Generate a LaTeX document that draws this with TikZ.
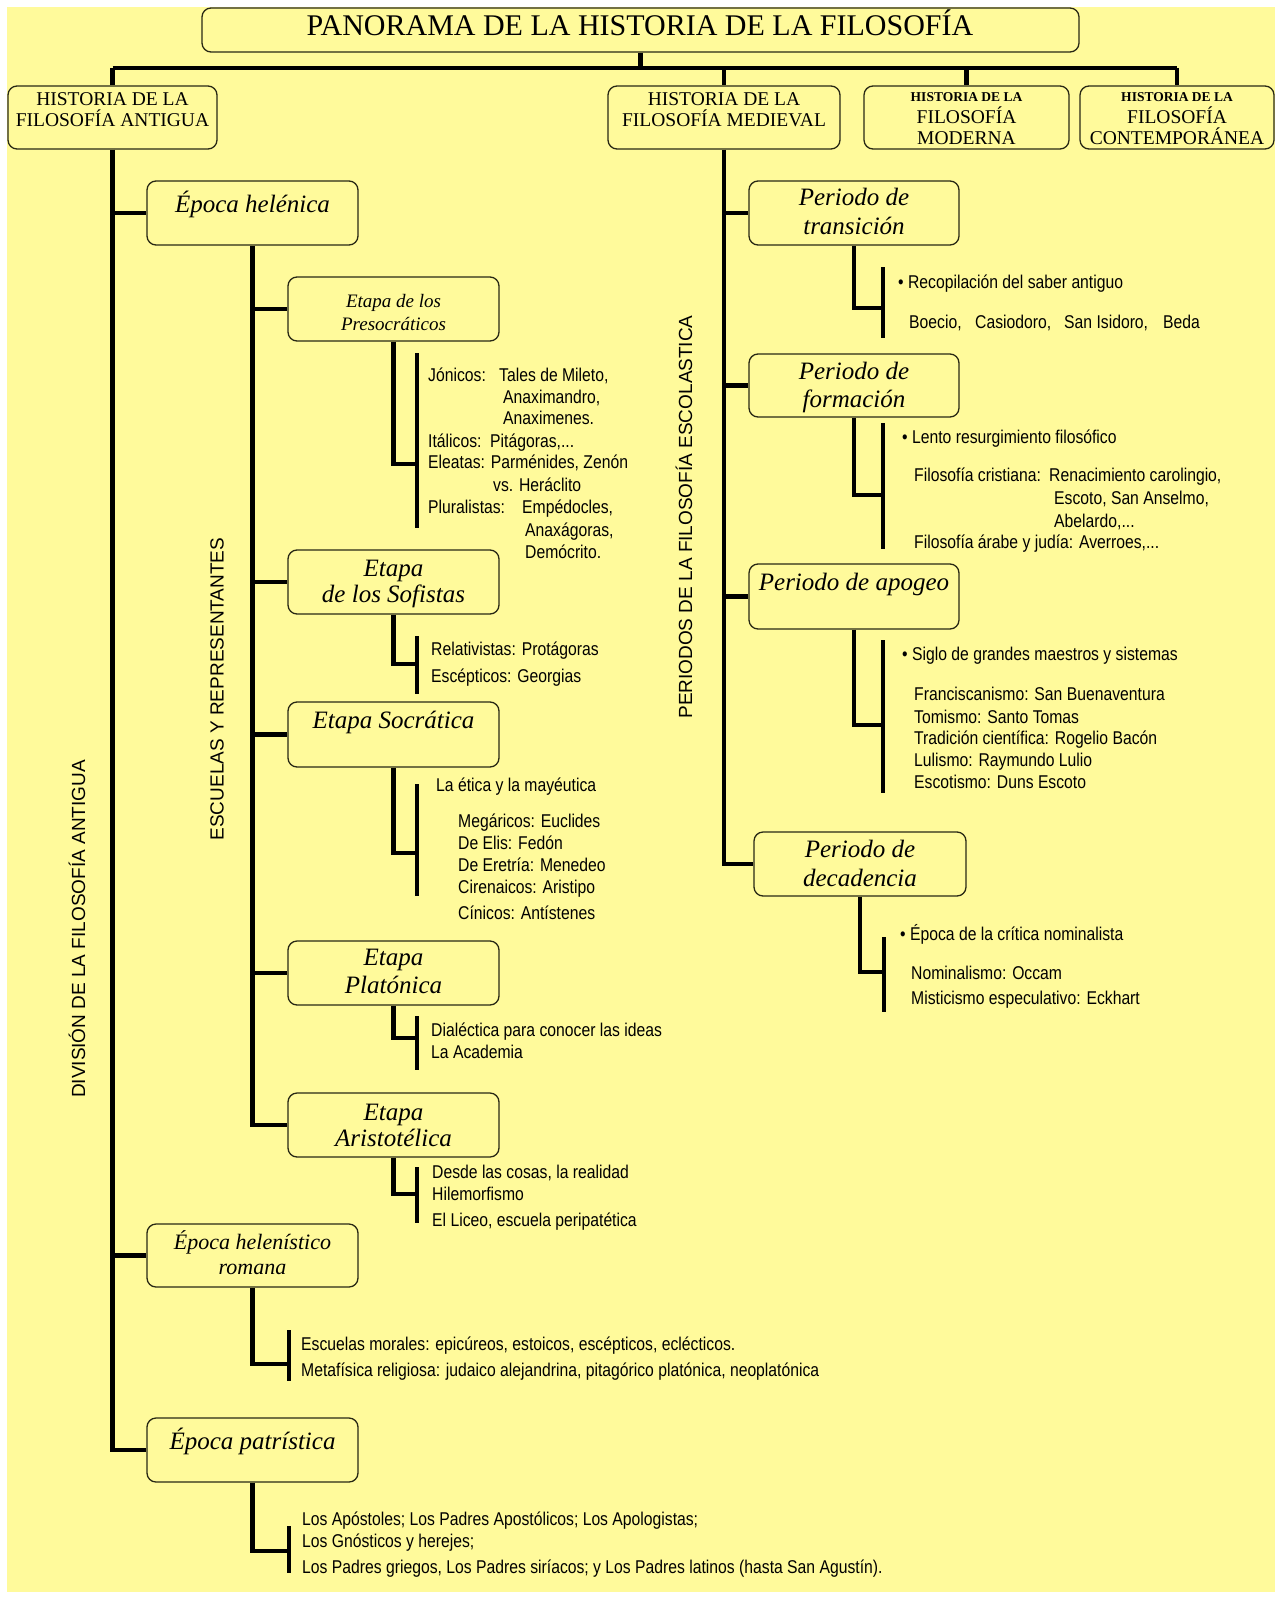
\documentclass[tikz,border=0pt]{standalone}
\usepackage{fontspec}
\setmainfont{Liberation Serif}
\newfontfamily\narrowsans[FakeStretch=0.85]{Liberation Sans}
\newfontfamily\plainsans{Liberation Sans}
\definecolor{bgyellow}{RGB}{255,250,155}
\definecolor{boxline}{RGB}{40,40,20}
\begin{document}
\begin{tikzpicture}[x=1pt,y=-1pt,
  box/.style={draw=boxline, line width=1.3pt, rounded corners=9pt, fill=bgyellow, inner sep=0pt},
  conn/.style={line width=4.5pt, black},
  itl/.style={font=\fontsize{25}{28}\selectfont\itshape, inner sep=0pt, anchor=mid, yshift=-5pt},
  itlsmall/.style={font=\fontsize{19}{22}\selectfont\itshape, inner sep=0pt, anchor=mid, yshift=-4pt},
  itlmid/.style={font=\fontsize{22}{25}\selectfont\itshape, inner sep=0pt, anchor=mid, yshift=-5pt},
  hdr/.style={font=\fontsize{19.5}{21}\selectfont, inner sep=0pt, anchor=mid, yshift=-4.5pt},
  hdrsmall/.style={font=\fontsize{13.5}{15}\selectfont\bfseries, inner sep=0pt, anchor=mid, yshift=-3.5pt},
  ttl/.style={font=\fontsize{30}{32}\selectfont, inner sep=0pt, anchor=mid, yshift=-6pt},
  txt/.style={font=\narrowsans\fontsize{18.5}{22}\selectfont, inner sep=0pt, anchor=mid west, yshift=-4pt},
  vlab/.style={font=\plainsans\fontsize{19}{22}\selectfont, rotate=90, inner sep=0pt, anchor=center}
]
\useasboundingbox (0,0) rectangle (1281,1600);
\fill[bgyellow] (7,7) rectangle (1275,1592);

% ---------- top level ----------
\node[box, minimum width=877pt, minimum height=44pt] (title) at (640.5,30) {};
\node[ttl] (titlet) at (640,27) {PANORAMA DE LA HISTORIA DE LA FILOSOFÍA};

\node[box, minimum width=209pt, minimum height=63pt] (antigua) at (112.5,117.5) {};
\node[hdr] (antigua1) at (112.5,99) {HISTORIA DE LA};
\node[hdr] (antigua2) at (112.5,120) {FILOSOFÍA ANTIGUA};

\node[box, minimum width=232pt, minimum height=63pt] (medieval) at (724,117.5) {};
\node[hdr] (medieval1) at (724,99) {HISTORIA DE LA};
\node[hdr] (medieval2) at (724,120) {FILOSOFÍA MEDIEVAL};

\node[box, minimum width=205pt, minimum height=63pt] (moderna) at (966.5,117.5) {};
\node[hdrsmall] (moderna1) at (966.5,96) {HISTORIA DE LA};
\node[hdr] (moderna2) at (966.5,117) {FILOSOFÍA};
\node[hdr] (moderna3) at (966.5,138) {MODERNA};

\node[box, minimum width=194pt, minimum height=63pt] (contemp) at (1177,117.5) {};
\node[hdrsmall] (contemp1) at (1177,96) {HISTORIA DE LA};
\node[hdr] (contemp2) at (1177,117) {FILOSOFÍA};
\node[hdr] (contemp3) at (1177,138) {CONTEMPORÁNEA};

\coordinate (hub) at (640.5,68);
\draw[conn] (title.south) -- (hub);
\draw[conn] (antigua.north |- hub) -- (contemp.north |- hub);
\draw[conn] (antigua.north |- hub) -- (antigua.north);
\draw[conn] (medieval.north |- hub) -- (medieval.north);
\draw[conn] (moderna.north |- hub) -- (moderna.north);
\draw[conn] (contemp.north |- hub) -- (contemp.north);

% ---------- antigua ----------
\node[vlab] (division) at (77,929) {DIVISIÓN DE LA FILOSOFÍA ANTIGUA};
\node[vlab] (escuelas) at (217,689) {ESCUELAS Y REPRESENTANTES};

\node[box, minimum width=211pt, minimum height=64pt] (helenica) at (252.5,213) {};
\node[itl] (helenicat) at (252.5,205) {Época helénica};

\node[box, minimum width=211pt, minimum height=64pt] (preso) at (393.5,309) {};
\node[itlsmall] (preso1) at (393.5,301) {Etapa de los};
\node[itlsmall] (preso2) at (393.5,324) {Presocráticos};

\node[box, minimum width=211pt, minimum height=64pt] (sofistas) at (393.5,582) {};
\node[itl] (sofistas1) at (393.5,569) {Etapa};
\node[itl] (sofistas2) at (393.5,595) {de los Sofistas};

\node[box, minimum width=211pt, minimum height=65pt] (socratica) at (393.5,734.5) {};
\node[itl] (socraticat) at (393.5,721) {Etapa Socrática};

\node[box, minimum width=211pt, minimum height=64pt] (platonica) at (393.5,973) {};
\node[itl] (platonica1) at (393.5,958) {Etapa};
\node[itl] (platonica2) at (393.5,986) {Platónica};

\node[box, minimum width=211pt, minimum height=64pt] (aristo) at (393.5,1125) {};
\node[itl] (aristo1) at (393.5,1113) {Etapa};
\node[itl] (aristo2) at (393.5,1139) {Aristotélica};

\node[box, minimum width=211pt, minimum height=63pt] (helenistico) at (252.5,1255.5) {};
\node[itlmid] (helenistico1) at (252.5,1242) {Época helenístico};
\node[itlmid] (helenistico2) at (252.5,1267) {romana};

\node[box, minimum width=211pt, minimum height=64pt] (patristica) at (252.5,1450) {};
\node[itl] (patristicat) at (252.5,1442) {Época patrística};

% trunk antigua
\draw[conn] (antigua.south) -- (antigua.south |- patristica.west) -- (patristica.west);
\draw[conn] (antigua.south |- helenica.west) -- (helenica.west);
\draw[conn] (antigua.south |- helenistico.west) -- (helenistico.west);

% trunk helenica
\draw[conn] (helenica.south) -- (helenica.south |- aristo.west) -- (aristo.west);
\draw[conn] (helenica.south |- preso.west) -- (preso.west);
\draw[conn] (helenica.south |- sofistas.west) -- (sofistas.west);
\draw[conn] (helenica.south |- socratica.west) -- (socratica.west);
\draw[conn] (helenica.south |- platonica.west) -- (platonica.west);

% presocraticos
\coordinate (e1) at (417,464); \coordinate (b1t) at (417,353); \coordinate (b1b) at (417,528);
\draw[conn] (preso.south) |- (e1);
\draw[conn] (b1t) -- (b1b);
\node[txt] (t1a) at (428,375) {Jónicos:};
\node[txt] (t1b) at (499,375) {Tales de Mileto,};
\node[txt] (t1c) at (503,397) {Anaximandro,};
\node[txt] (t1d) at (503,418) {Anaximenes.};
\node[txt] (t1e) at (428,441) {Itálicos:\ \ Pitágoras,...};
\node[txt] (t1f) at (428,462) {Eleatas: Parménides, Zenón};
\node[txt] (t1g) at (493,485) {vs. Heráclito};
\node[txt] (t1h) at (428,507) {Pluralistas:};
\node[txt] (t1i) at (522,507) {Empédocles,};
\node[txt] (t1j) at (525,530) {Anaxágoras,};
\node[txt] (t1k) at (525,552) {Demócrito.};

% sofistas
\coordinate (e2) at (417,664); \coordinate (b2t) at (417,636); \coordinate (b2b) at (417,694);
\draw[conn] (sofistas.south) |- (e2);
\draw[conn] (b2t) -- (b2b);
\node[txt] (t2a) at (431,649) {Relativistas: Protágoras};
\node[txt] (t2b) at (431,676) {Escépticos: Georgias};

% socratica
\coordinate (e3) at (417,853); \coordinate (b3t) at (417,784); \coordinate (b3b) at (417,896);
\draw[conn] (socratica.south) |- (e3);
\draw[conn] (b3t) -- (b3b);
\node[txt] (t3a) at (436,785) {La ética y la mayéutica};
\node[txt] (t3b) at (458,821) {Megáricos: Euclides};
\node[txt] (t3c) at (458,843) {De Elis: Fedón};
\node[txt] (t3d) at (458,865) {De Eretría: Menedeo};
\node[txt] (t3e) at (458,887) {Cirenaicos: Aristipo};
\node[txt] (t3f) at (458,913) {Cínicos: Antístenes};

% platonica
\coordinate (e4) at (417,1038); \coordinate (b4t) at (417,1016); \coordinate (b4b) at (417,1070);
\draw[conn] (platonica.south) |- (e4);
\draw[conn] (b4t) -- (b4b);
\node[txt] (t4a) at (431,1030) {Dialéctica para conocer las ideas};
\node[txt] (t4b) at (431,1052) {La Academia};

% aristotelica
\coordinate (e5) at (417,1194); \coordinate (b5t) at (417,1167); \coordinate (b5b) at (417,1223);
\draw[conn] (aristo.south) |- (e5);
\draw[conn] (b5t) -- (b5b);
\node[txt] (t5a) at (432,1172) {Desde las cosas, la realidad};
\node[txt] (t5b) at (432,1194) {Hilemorfismo};
\node[txt] (t5c) at (432,1220) {El Liceo, escuela peripatética};

% helenistico romana
\coordinate (e6) at (289,1364); \coordinate (b6t) at (289,1330); \coordinate (b6b) at (289,1381);
\draw[conn] (helenistico.south) |- (e6);
\draw[conn] (b6t) -- (b6b);
\node[txt] (t6a) at (301,1344) {Escuelas morales: epicúreos, estoicos, escépticos, eclécticos.};
\node[txt] (t6b) at (301,1370) {Metafísica religiosa: judaico alejandrina, pitagórico platónica, neoplatónica};

% patristica
\coordinate (e7) at (289,1551); \coordinate (b7t) at (289,1526); \coordinate (b7b) at (289,1573);
\draw[conn] (patristica.south) |- (e7);
\draw[conn] (b7t) -- (b7b);
\node[txt] (t7a) at (302,1519) {Los Apóstoles; Los Padres Apostólicos; Los Apologistas;};
\node[txt] (t7b) at (302,1541) {Los Gnósticos y herejes;};
\node[txt] (t7c) at (302,1567) {Los Padres griegos, Los Padres siríacos; y Los Padres latinos (hasta San Agustín).};

% ---------- medieval ----------
\node[vlab] (periodos) at (684,517) {PERIODOS DE LA FILOSOFÍA ESCOLASTICA};

\node[box, minimum width=210pt, minimum height=64pt] (transicion) at (854,213) {};
\node[itl] (transicion1) at (854,198) {Periodo de};
\node[itl] (transicion2) at (854,227) {transición};

\node[box, minimum width=210pt, minimum height=63pt] (formacion) at (854,385.5) {};
\node[itl] (formacion1) at (854,372) {Periodo de};
\node[itl] (formacion2) at (854,400) {formación};

\node[box, minimum width=210pt, minimum height=65pt] (apogeo) at (854,596.5) {};
\node[itl] (apogeot) at (854,583) {Periodo de apogeo};

\node[box, minimum width=212pt, minimum height=64pt] (decadencia) at (860,864) {};
\node[itl] (decadencia1) at (860,850) {Periodo de};
\node[itl] (decadencia2) at (860,879) {decadencia};

\draw[conn] (medieval.south) -- (medieval.south |- decadencia.west) -- (decadencia.west);
\draw[conn] (medieval.south |- transicion.west) -- (transicion.west);
\draw[conn] (medieval.south |- formacion.west) -- (formacion.west);
\draw[conn] (medieval.south |- apogeo.west) -- (apogeo.west);

% transicion
\coordinate (e8) at (883,308); \coordinate (b8t) at (883,267); \coordinate (b8b) at (883,338);
\draw[conn] (transicion.south) |- (e8);
\draw[conn] (b8t) -- (b8b);
\node[txt] (t8a) at (898,282) {\textbullet\ Recopilación del saber antiguo};
\node[txt] (t8b) at (909,322) {Boecio,};
\node[txt] (t8c) at (975,322) {Casiodoro,};
\node[txt] (t8d) at (1064,322) {San Isidoro,};
\node[txt] (t8e) at (1163,322) {Beda};

% formacion
\coordinate (e9) at (883,495); \coordinate (b9t) at (883,423); \coordinate (b9b) at (883,549);
\draw[conn] (formacion.south) |- (e9);
\draw[conn] (b9t) -- (b9b);
\node[txt] (t9a) at (902,437) {\textbullet\ Lento resurgimiento filosófico};
\node[txt] (t9b) at (914,475) {Filosofía cristiana:};
\node[txt] (t9c) at (1049,475) {Renacimiento carolingio,};
\node[txt] (t9d) at (1054,498) {Escoto, San Anselmo,};
\node[txt] (t9e) at (1054,521) {Abelardo,...};
\node[txt] (t9f) at (914,542) {Filosofía árabe y judía: Averroes,...};

% apogeo
\coordinate (e10) at (883,725); \coordinate (b10t) at (883,640); \coordinate (b10b) at (883,793);
\draw[conn] (apogeo.south) |- (e10);
\draw[conn] (b10t) -- (b10b);
\node[txt] (t10a) at (902,654) {\textbullet\ Siglo de grandes maestros y sistemas};
\node[txt] (t10b) at (914,694) {Franciscanismo: San Buenaventura};
\node[txt] (t10c) at (914,717) {Tomismo: Santo Tomas};
\node[txt] (t10d) at (914,738) {Tradición científica: Rogelio Bacón};
\node[txt] (t10e) at (914,760) {Lulismo: Raymundo Lulio};
\node[txt] (t10f) at (914,782) {Escotismo: Duns Escoto};

% decadencia
\coordinate (e11) at (884,972); \coordinate (b11t) at (884,937); \coordinate (b11b) at (884,1012);
\draw[conn] (decadencia.south) |- (e11);
\draw[conn] (b11t) -- (b11b);
\node[txt] (t11a) at (900,934) {\textbullet\ Época de la crítica nominalista};
\node[txt] (t11b) at (911,973) {Nominalismo: Occam};
\node[txt] (t11c) at (911,998) {Misticismo especulativo: Eckhart};
\end{tikzpicture}
\end{document}
